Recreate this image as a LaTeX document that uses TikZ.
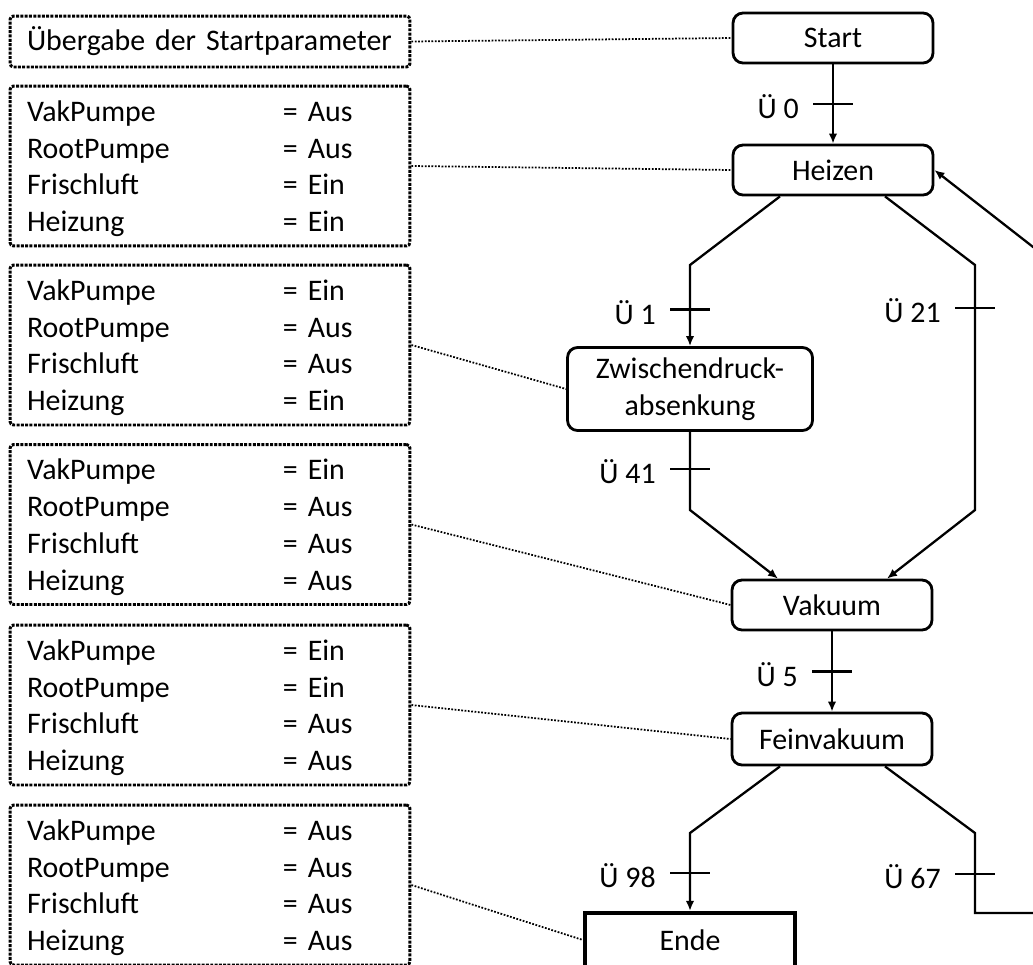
\documentclass[tikz,border=0pt]{standalone}
\usepackage{fontspec}
\setmainfont{Carlito}
\usetikzlibrary{arrows.meta,positioning,calc}

\begin{document}
\begin{tikzpicture}[x=0.02cm, y=-0.02cm, font=\fontsize{17}{20.9}\selectfont,
  state/.style={draw, line width=1.6pt, rounded corners=0.2cm, minimum width=4cm, minimum height=1cm, inner sep=2pt},
  endbox/.style={draw, line width=2.4pt, minimum width=4.2cm, minimum height=1.08cm},
  parbox/.style={draw, line width=1.7pt, dash pattern=on 1.7pt off 0.75pt,
    rounded corners=2pt, minimum width=8cm, text width=7.32cm, inner xsep=0.34cm, inner ysep=0pt, align=left},
  flow/.style={line width=1.3pt},
  arr/.style={-{Latex[length=2mm,width=1.7mm]}},
  tick/.style={line width=1.3pt},
  note/.style={line width=1pt, dash pattern=on 1pt off 0.9pt},
  trlabel/.style={inner sep=0pt}]
  \useasboundingbox (0,0) rectangle (1033,964);
  \clip (0,0) rectangle (1033,964);

  % Zustaende
  \node[state] (start) at (833,38) {Start};
  \node[state] (heizen) at (833,170) {Heizen};
  \node[state, minimum width=4.9cm, minimum height=1.66cm, align=center] (zwi) at (690,389) {Zwischendruck-\\absenkung};
  \node[state] (vak) at (832,605) {Vakuum};
  \node[state, minimum height=1.04cm] (fein) at (832,739) {Feinvakuum};
  \node[endbox] (ende) at (690,940) {Ende};

  % Parameter
  \node[parbox, minimum height=1.02cm] (p0) at (210,41.5) {Übergabe der Startparameter};
  \node[parbox, minimum height=3.2cm] (p1) at (210,166) {\begin{tabular}{@{}p{5.12cm}@{}l@{}}\rule{0pt}{0.64cm}VakPumpe & = Aus\\RootPumpe & = Aus\\Frischluft & = Ein\\Heizung & = Ein\end{tabular}};
  \node[parbox, minimum height=3.2cm] (p2) at (210,345) {\begin{tabular}{@{}p{5.12cm}@{}l@{}}\rule{0pt}{0.64cm}VakPumpe & = Ein\\RootPumpe & = Aus\\Frischluft & = Aus\\Heizung & = Ein\end{tabular}};
  \node[parbox, minimum height=3.2cm] (p3) at (210,524.5) {\begin{tabular}{@{}p{5.12cm}@{}l@{}}\rule{0pt}{0.64cm}VakPumpe & = Ein\\RootPumpe & = Aus\\Frischluft & = Aus\\Heizung & = Aus\end{tabular}};
  \node[parbox, minimum height=3.2cm] (p4) at (210,705) {\begin{tabular}{@{}p{5.12cm}@{}l@{}}\rule{0pt}{0.64cm}VakPumpe & = Ein\\RootPumpe & = Ein\\Frischluft & = Aus\\Heizung & = Aus\end{tabular}};
  \node[parbox, minimum height=3.2cm] (p5) at (210,885) {\begin{tabular}{@{}p{5.12cm}@{}l@{}}\rule{0pt}{0.64cm}VakPumpe & = Aus\\RootPumpe & = Aus\\Frischluft & = Aus\\Heizung & = Aus\end{tabular}};

  \draw[note] (p0.east) -- (start.west);
  \draw[note] (p1.east) -- (heizen.west);
  \draw[note] (p2.east) -- (zwi.west);
  \draw[note] (p3.east) -- (vak.west);
  \draw[note] (p4.east) -- (fein.west);
  \draw[note] (p5.east) -- (ende.west);

  % Knicke
  \coordinate (b1) at (690,265);
  \coordinate (b21) at (975,265);
  \coordinate (c21) at (975,510);
  \coordinate (b41) at (690,510);
  \coordinate (b98) at (690,833);
  \coordinate (b67) at (975,833);
  \coordinate (c67) at (975,913);
  \coordinate (r1) at (1060,913);
  \coordinate (r2) at (1060,268);

  % Uebergaenge
  \draw[flow, arr] (start.south) -- coordinate[pos=0.5] (t0) (heizen.north);
  \draw[flow, arr] ([xshift=-1.06cm]heizen.south) -- (b1) -- coordinate[pos=0.55] (t1) (zwi.north);
  \draw[flow, arr] ([xshift=1.04cm]heizen.south) -- (b21) -- coordinate[pos=0.175] (t21) (c21) -- ([xshift=1.1cm]vak.north);
  \draw[flow, arr] (zwi.south) -- coordinate[pos=0.475] (t41) (b41) -- ([xshift=-1.08cm]vak.north);
  \draw[flow, arr] (vak.south) -- coordinate[pos=0.5] (t5) (fein.north);
  \draw[flow, arr] ([xshift=-1.04cm]fein.south) -- (b98) -- coordinate[pos=0.51] (t98) (ende.north);
  \draw[flow, arr] ([xshift=1.06cm]fein.south) -- (b67) -- coordinate[pos=0.51] (t67) (c67) -- (r1) -- (r2) -- (heizen.east);

  \foreach \t in {t0,t1,t21,t41,t5,t98,t67}
    \draw[tick] ([xshift=-0.4cm]\t) -- ([xshift=0.4cm]\t);

  \node[trlabel, left=0.68cm of t0, yshift=-0.06cm] (l0) {Ü 0};
  \node[trlabel, left=0.68cm of t1, yshift=-0.06cm] (l1) {Ü 1};
  \node[trlabel, left=0.68cm of t21, yshift=-0.06cm] (l21) {Ü 21};
  \node[trlabel, left=0.68cm of t41, yshift=-0.06cm] (l41) {Ü 41};
  \node[trlabel, left=0.68cm of t5, yshift=-0.06cm] (l5) {Ü 5};
  \node[trlabel, left=0.68cm of t98, yshift=-0.06cm] (l98) {Ü 98};
  \node[trlabel, left=0.68cm of t67, yshift=-0.06cm] (l67) {Ü 67};
\end{tikzpicture}
\end{document}
